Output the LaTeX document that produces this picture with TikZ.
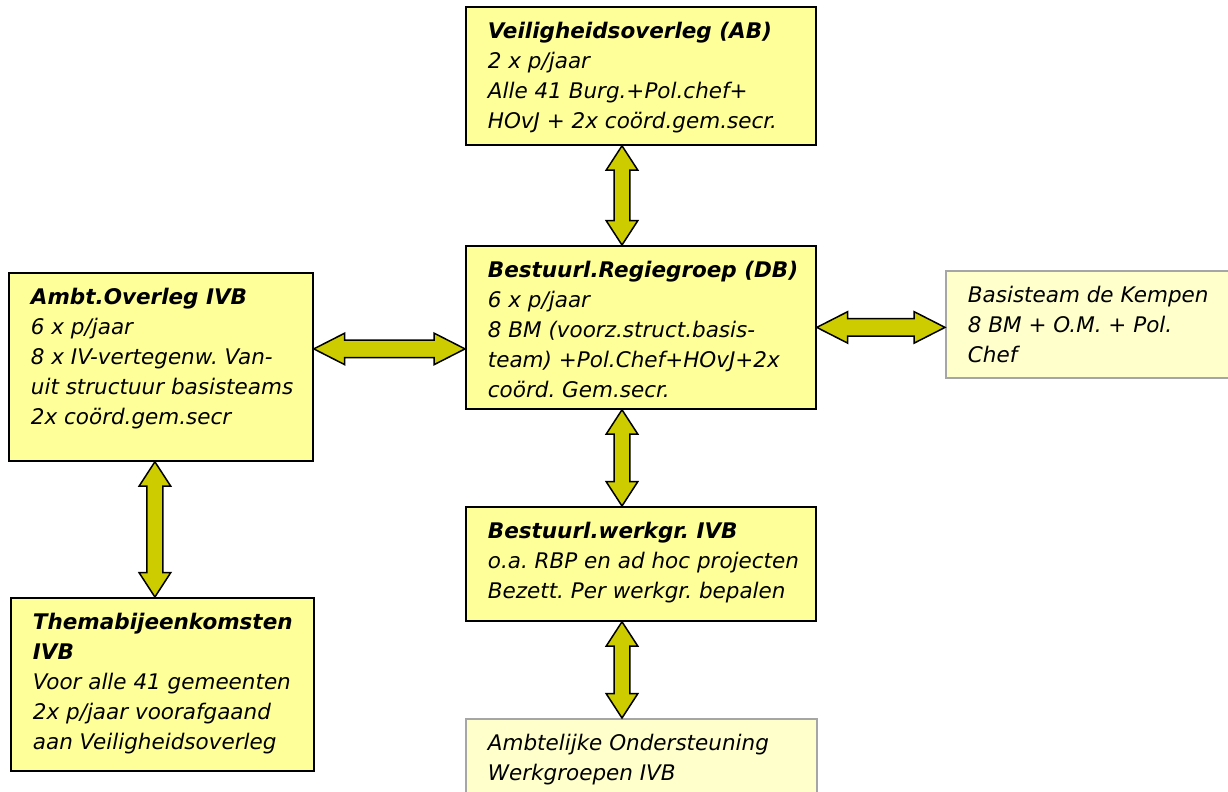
\documentclass[tikz,border=0pt]{standalone}
\usepackage{fontspec}
\setmainfont{DejaVu Sans}
\usepackage{tikz}
\usetikzlibrary{shapes.arrows,calc,positioning}
\definecolor{geel}{HTML}{FFFF99}
\definecolor{lichtgeel}{HTML}{FFFFCC}
\definecolor{olijf}{HTML}{CCCC00}
\definecolor{randgrijs}{HTML}{A6A6A6}
\frenchspacing
% tekstvak: breedte, hoogte, inhoud (regels mogen iets uitsteken)
\newcommand{\vak}[3]{\makebox[#1][l]{\parbox[t][#2][t]{\dimexpr#1+30pt\relax}{\raggedright\strut#3}}}
% dubbelpijl tussen twee punten
\newcommand{\pijl}[3][]{%
\path let \p1=(#2), \p2=(#3), \n1={veclen(\x2-\x1,\y2-\y1)} in
  (\p1) -- (\p2) node[dubbelpijl, midway, sloped, minimum height=\n1, #1] {};}

\begin{document}
\begin{tikzpicture}[x=0.5pt, y=-0.5pt,
  blok/.style={draw, line width=0.9pt, fill=geel, anchor=north west,
    inner xsep=11pt, inner ysep=5.5pt,
    font=\fontsize{10.75pt}{15pt}\selectfont\itshape},
  lichtblok/.style={blok, draw=randgrijs, fill=lichtgeel},
  dubbelpijl/.style={double arrow, draw, line width=0.75pt, fill=olijf,
    inner xsep=0pt, inner ysep=3.6pt, minimum width=15pt,
    double arrow head extend=3.9pt, double arrow tip angle=66},
  vlak/.style={double arrow tip angle=54, inner ysep=4pt,
    double arrow head extend=3.5pt}]

\useasboundingbox (0,0) rectangle (1228,792);
\clip (0,0) rectangle (1228,792);

% Vakken
\node[blok] (veilig) at (465,6) {\vak{153pt}{58pt}{\textbf{Veiligheidsoverleg (AB)}\\
  2 x p/jaar\\ Alle 41 Burg.+Pol.chef+\\ HOvJ + 2x coörd.gem.secr.}};
\node[blok] (regie) at (465,245) {\vak{153pt}{70.5pt}{\textbf{Bestuurl.Regiegroep (DB)}\\
  6 x p/jaar\\ 8 BM (voorz.struct.basis-\\ team) +Pol.Chef+HOvJ+2x\\ coörd. Gem.secr.}};
\node[blok] (ambt) at (8,272) {\vak{130pt}{83pt}{\textbf{Ambt.Overleg IVB}\\
  6 x p/jaar\\ 8 x IV-vertegenw. Van-\\ uit structuur basisteams\\ 2x coörd.gem.secr}};
\node[lichtblok] (basis) at (945,270) {\vak{123pt}{42.5pt}{Basisteam de Kempen\\
  8 BM + O.M. + Pol.\\ Chef}};
\node[blok] (werkgr) at (465,506) {\vak{153pt}{46pt}{\textbf{Bestuurl.werkgr. IVB}\\
  o.a. RBP en ad hoc projecten\\ Bezett. Per werkgr. bepalen}};
\node[blok] (thema) at (10,597) {\vak{129.5pt}{75.5pt}{\textbf{Themabijeenkomsten}\\
  \textbf{IVB}\\ Voor alle 41 gemeenten\\ 2x p/jaar voorafgaand\\ aan Veiligheidsoverleg}};
\node[lichtblok] (ambtelijk) at (465,718) {\vak{153.5pt}{39pt}{Ambtelijke Ondersteuning\\
  Werkgroepen IVB}};

% Pijlen
\pijl{[xshift=78.5pt]veilig.south west}{[xshift=78.5pt]regie.north west}
\pijl{[xshift=78.5pt]regie.south west}{[xshift=78.5pt]werkgr.north west}
\pijl{[xshift=78.5pt]werkgr.south west}{[xshift=78.5pt]ambtelijk.north west}
\coordinate (p4) at ([yshift=9pt]ambt.east);
\pijl[vlak]{p4}{regie.west |- p4}
\pijl[vlak]{regie.east}{basis.west |- regie.east}
\coordinate (p6) at ([xshift=-3pt]ambt.south);
\pijl{p6}{thema.north -| p6}

\end{tikzpicture}
\end{document}
